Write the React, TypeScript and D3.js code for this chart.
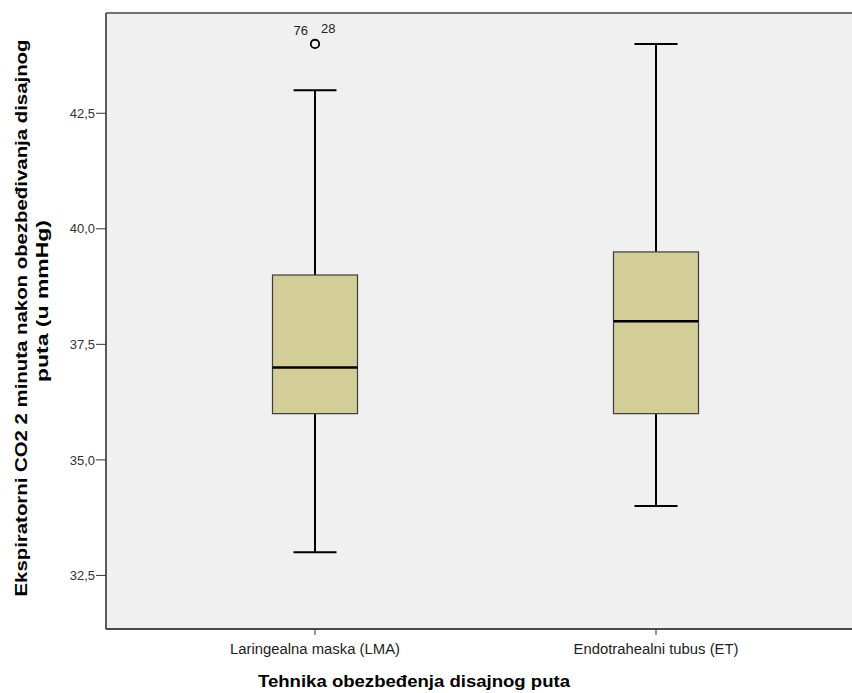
import React from "react";
import * as d3 from "d3";

const categories = ["Laringealna maska (LMA)", "Endotrahealni tubus (ET)"];
const whiskerLow = [33, 34];
const quartile1 = [36, 36];
const medians = [37, 38];
const quartile3 = [39, 39.5];
const whiskerHigh = [43, 44];
const outlierCategory = [0];
const outlierValue = [44];
const outlierCases = [["76", "28"]];
const yTicks = [32.5, 35.0, 37.5, 40.0, 42.5];

const xTitle = "Tehnika obezbeđenja disajnog puta";
const yTitleLines = ["Ekspiratorni CO2 2 minuta nakon obezbeđivanja disajnog", "puta (u mmHg)"];

const W = 852;
const H = 693;
const plot = { left: 106, right: 865, top: 13, bottom: 629 };
const FONT = "'Liberation Sans', Arial, sans-serif";

export default function App() {
  const y = d3.scaleLinear().domain([31.34, 44.67]).range([plot.bottom, plot.top]);
  const x = d3.scalePoint<string>().domain(categories).range([315, 656]);
  const boxW = 85;
  const capW = 43;
  const fmt = (v: number) => d3.format(".1f")(v).replace(".", ",");
  const catLabelLen = [170, 165];
  const yTitleLen = [557, 162];
  const yTitleX = [27, 48];
  const yTitleCenter = [318, 301];

  return (
    <svg
      width={W}
      height={H}
      style={{ position: "absolute", left: 0, top: 0, display: "block" }}
      fontFamily={FONT}
    >
      <rect x={0} y={0} width={W} height={H} fill="#ffffff" />
      <rect
        x={plot.left}
        y={plot.top}
        width={plot.right - plot.left}
        height={plot.bottom - plot.top}
        fill="#f0f0f0"
      />
      {/* frame */}
      <line x1={plot.left} x2={W} y1={plot.top} y2={plot.top} stroke="#727272" strokeWidth={2} />
      <line x1={plot.left} x2={W} y1={plot.bottom} y2={plot.bottom} stroke="#4a4a4a" strokeWidth={2} />
      <line x1={plot.left} x2={plot.left} y1={plot.top} y2={plot.bottom} stroke="#5a5a5a" strokeWidth={2} />

      {/* y axis ticks */}
      {yTicks.map((t) => (
        <g key={t}>
          <line x1={plot.left - 10} x2={plot.left} y1={y(t)} y2={y(t)} stroke="#333" strokeWidth={1} />
          <text x={plot.left - 11} y={y(t)} dy="0.36em" textAnchor="end" fontSize={13} fill="#333">
            {fmt(t)}
          </text>
        </g>
      ))}

      {/* x axis ticks */}
      {categories.map((c, i) => (
        <g key={c}>
          <line x1={x(c)!} x2={x(c)!} y1={plot.bottom} y2={plot.bottom + 6} stroke="#333" strokeWidth={1} />
          <text
            x={x(c)!}
            y={654}
            textAnchor="middle"
            fontSize={14}
            fill="#222"
            textLength={catLabelLen[i]}
            lengthAdjust="spacingAndGlyphs"
          >
            {c}
          </text>
        </g>
      ))}

      {/* boxes */}
      {categories.map((c, i) => {
        const cx = x(c)!;
        return (
          <g key={"box" + c}>
            <line x1={cx} x2={cx} y1={y(whiskerHigh[i])} y2={y(quartile3[i])} stroke="#000" strokeWidth={2} />
            <line x1={cx} x2={cx} y1={y(quartile1[i])} y2={y(whiskerLow[i])} stroke="#000" strokeWidth={2} />
            <line
              x1={cx - capW / 2}
              x2={cx + capW / 2}
              y1={y(whiskerHigh[i])}
              y2={y(whiskerHigh[i])}
              stroke="#000"
              strokeWidth={2}
            />
            <line
              x1={cx - capW / 2}
              x2={cx + capW / 2}
              y1={y(whiskerLow[i])}
              y2={y(whiskerLow[i])}
              stroke="#000"
              strokeWidth={2}
            />
            <rect
              x={cx - boxW / 2}
              y={y(quartile3[i])}
              width={boxW}
              height={y(quartile1[i]) - y(quartile3[i])}
              fill="#d3ce97"
              stroke="#3c3c3c"
              strokeWidth={1.2}
            />
            <line
              x1={cx - boxW / 2}
              x2={cx + boxW / 2}
              y1={y(medians[i])}
              y2={y(medians[i])}
              stroke="#000"
              strokeWidth={2.5}
            />
          </g>
        );
      })}

      {/* outliers */}
      {outlierValue.map((v, k) => {
        const cx = x(categories[outlierCategory[k]])!;
        const cy = y(v);
        return (
          <g key={"o" + k}>
            <circle cx={cx} cy={cy} r={4.2} fill="none" stroke="#000" strokeWidth={1.8} />
            <text x={cx - 7} y={cy - 9} textAnchor="end" fontSize={13} fill="#222">
              {outlierCases[k][0]}
            </text>
            <text x={cx + 6} y={cy - 11} textAnchor="start" fontSize={13} fill="#222">
              {outlierCases[k][1]}
            </text>
          </g>
        );
      })}

      {/* axis titles */}
      <text
        x={414}
        y={687}
        textAnchor="middle"
        fontSize={17}
        fontWeight="bold"
        fill="#000"
        textLength={312}
        lengthAdjust="spacingAndGlyphs"
      >
        {xTitle}
      </text>
      {yTitleLines.map((line, i) => (
        <text
          key={line}
          transform={`translate(${yTitleX[i]}, ${yTitleCenter[i]}) rotate(-90)`}
          textAnchor="middle"
          fontSize={17}
          fontWeight="bold"
          fill="#000"
          textLength={yTitleLen[i]}
          lengthAdjust="spacingAndGlyphs"
        >
          {line}
        </text>
      ))}
    </svg>
  );
}
